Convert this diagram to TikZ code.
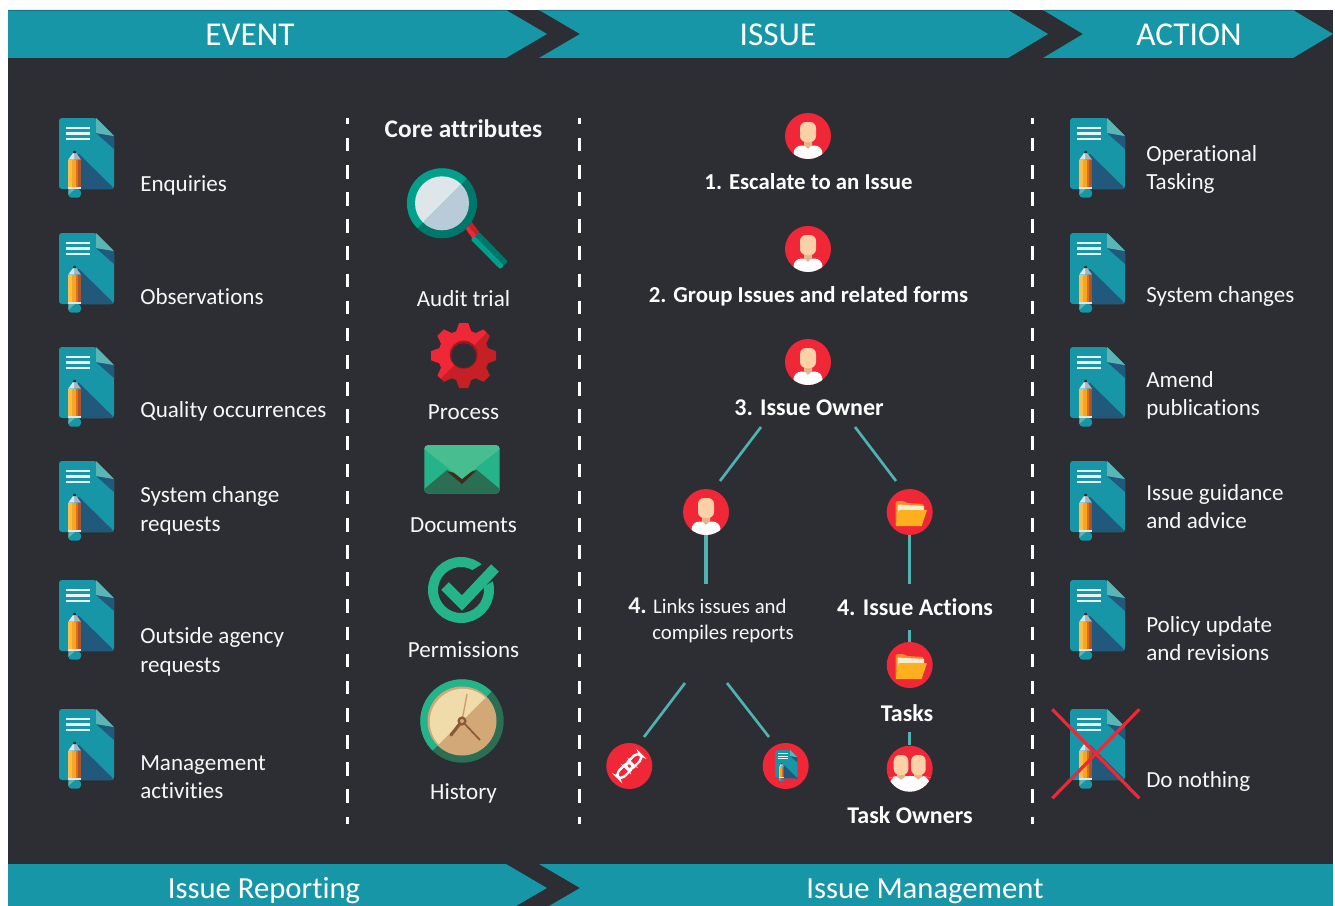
\documentclass[tikz,border=0pt]{standalone}
\usepackage{fontspec}
\setmainfont{Carlito}[Ligatures={CommonOff}]
\definecolor{bg}{HTML}{2C2E33}
\definecolor{teal}{HTML}{1696A6}
\definecolor{tealedge}{HTML}{127482}
\definecolor{foldlt}{HTML}{5AB5B5}
\definecolor{docdark}{HTML}{22587C}
\definecolor{conn}{HTML}{4FB3B3}
\definecolor{redm}{HTML}{EF2736}
\definecolor{redd}{HTML}{C52026}
\definecolor{skin}{HTML}{FDD0A8}
\definecolor{skind}{HTML}{E5B48A}
\definecolor{magl}{HTML}{00A08A}
\definecolor{magd}{HTML}{00776B}
\definecolor{lensl}{HTML}{DEE6E9}
\definecolor{lensd}{HTML}{B9CBD9}
\definecolor{grn}{HTML}{25B48A}
\definecolor{grnd}{HTML}{2A6E54}
\definecolor{grnl}{HTML}{48BE90}
\definecolor{brownd}{HTML}{43291C}
\definecolor{facel}{HTML}{F0DCAA}
\definecolor{faced}{HTML}{D2A877}
\definecolor{handd}{HTML}{8A5A38}
\definecolor{foldy}{HTML}{FDB01E}
\definecolor{foldo}{HTML}{F58A27}
\definecolor{foldc}{HTML}{F5EBCF}
\definecolor{penb}{HTML}{FCC04A}
\definecolor{penc}{HTML}{F9A51F}
\definecolor{pend}{HTML}{DA6E23}
\definecolor{pene}{HTML}{A8552A}
\definecolor{coneg}{HTML}{A9B4BC}
\newcommand\ulhalf{(-60,60) -- (60,-60) -- (-60,-60) -- cycle}
% document-and-pencil icon, origin at the document's top-left corner
\newcommand\docicon[3]{%
\begin{scope}[shift={(#1,#2)},scale=#3]
 \fill[teal,rounded corners=2.2pt] (0,0) -- (37,0) -- (55,18) -- (55,71) -- (0,71) -- cycle;
 \fill[docdark] (37,15) -- (55,18) -- (55,31) -- cycle;
 \fill[foldlt] (37,0) -- (55,18) -- (37,15) -- cycle;
 \fill[docdark,rounded corners=1.5pt] (19,35) -- (54.6,70) -- (54,71) -- (15,71) -- cycle;
 \fill[white!90!teal] (7,8.6) rectangle (31,10.8);
 \fill[white!90!teal] (7,14.3) rectangle (31,16.5);
 \fill[white!90!teal] (7,20) rectangle (31,22.2);
 \fill[penb] (9.3,41.5) rectangle (12.7,68.7);
 \fill[penc] (12.7,41.5) rectangle (16.7,68.7);
 \fill[pend] (16.7,41.5) rectangle (19.3,68.7);
 \fill[pene] (19.3,41.5) rectangle (22,68.7);
 \fill[lensl] (9.3,41.6) -- (15.6,33) -- (15.6,41.6) -- cycle;
 \fill[coneg] (15.6,33) -- (22,41.6) -- (15.6,41.6) -- cycle;
 \fill[bg] (14,35.2) -- (14.6,32.8) -- (16.6,32.8) -- (17.2,35.2) -- cycle;
 \fill[lensl] (9.3,68.7) rectangle (22,71);
 \fill[teal,rounded corners=2.5pt] (9.3,71) -- (22,71) -- (22,79.7) -- (9.3,79.7) -- cycle;
 \fill[foldlt] (9.3,71) -- (16,71) -- (9.3,77) -- cycle;
\end{scope}}
\newcommand\personshape[1]{%
 \fill[white,rounded corners=6pt] (#1-14.5,30) -- (#1-14.5,9.5) -- (#1+14.5,9.5) -- (#1+14.5,30) -- cycle;
 \fill[skind] (#1-4,4) -- (#1+4,4) -- (#1+4,9) -- (#1,12.8) -- (#1-4,9) -- cycle;
 \fill[skin,rounded corners=4.5pt] (#1-8,-14) rectangle (#1+8,6);
}
\newcommand\personicon[1]{%
\begin{scope}[shift={(#1.center)}]
 \clip (0,0) circle (23);
 \personshape{0}
\end{scope}}
\newcommand\twopeople[1]{%
\begin{scope}[shift={(#1.center)}]
 \clip (0,0) circle (23);
 \fill[white,rounded corners=6pt] (-20.5,30) -- (-20.5,9) -- (-14,7.5) -- (14,7.5) -- (20.5,9) -- (20.5,30) -- cycle;
 \fill[skind] (-12.5,4) -- (-4.5,4) -- (-4.5,8) -- (-8.7,11) -- (-12.5,8) -- cycle;
 \fill[skind] (12.5,4) -- (4.5,4) -- (4.5,8) -- (8.7,11) -- (12.5,8) -- cycle;
 \fill[skin,rounded corners=4.5pt] (-16,-13.7) rectangle (-1.4,6.3);
 \fill[skin,rounded corners=4.5pt] (1.4,-13.7) rectangle (16,6.3);
\end{scope}}
\newcommand\foldericon[1]{%
\begin{scope}[shift={(#1.center)}]
 \fill[foldo,rounded corners=1pt] (-14,14) -- (-14,-11) -- (-6,-11) -- (-3,-9) -- (14,-8) -- (14,0) -- (-10,14) -- cycle;
 \fill[foldc] (-12,14) -- (-12,-7.5) -- (14.5,-6) -- (14.5,0) -- cycle;
 \fill[foldy] (-11,-2) -- (17.3,-2) -- (12,14) -- (-14,14) -- cycle;
\end{scope}}
\tikzset{
 hdrtext/.style={text=white,inner sep=0pt,anchor=base,font=\fontsize{25pt}{28pt}\selectfont},
 bandtext/.style={text=white,inner sep=0pt,anchor=base,font=\fontsize{23pt}{26pt}\selectfont},
 lbl/.style={text=white!96!bg,inner sep=0pt,anchor=base west,font=\fontsize{17.3pt}{21pt}\selectfont},
 ctr/.style={text=white!96!bg,inner sep=0pt,anchor=base,font=\fontsize{17.3pt}{21pt}\selectfont},
 bld/.style={text=white,inner sep=0pt,anchor=base,font=\fontsize{18pt}{21pt}\selectfont\bfseries},
 bldsmall/.style={text=white,inner sep=0pt,anchor=base,font=\fontsize{17.1pt}{21pt}\selectfont\bfseries},
 iconc/.style={circle,fill=redm,draw=none,inner sep=0pt,minimum size=34.5pt},
 connline/.style={draw=conn,line width=2pt},
 connthick/.style={draw=conn,line width=2.3pt},
 divider/.style={draw=white,line width=2.25pt,dash pattern=on 10.18pt off 10.18pt,dash phase=5.45pt},
 crossline/.style={draw=redm,line width=2.4pt},
 arrowbar/.style={fill=teal}
}
\begin{document}
\begin{tikzpicture}[x=0.75pt,y=-0.75pt]
\useasboundingbox (0,0) rectangle (1335,906);
\fill[white] (0,0) rectangle (1335,906);
\fill[bg] (8,10) rectangle (1333,906);
% headers
\fill[arrowbar] (8,10) -- (506,10) -- (547,34) -- (506,58) -- (8,58) -- cycle;
\fill[arrowbar] (539,10) -- (1008,10) -- (1048,34) -- (1008,58) -- (539,58) -- (580,34) -- cycle;
\fill[arrowbar] (1043,10) -- (1293,10) -- (1333,34) -- (1293,58) -- (1043,58) -- (1083,34) -- cycle;
\draw[tealedge,line width=.6pt] (8,10.4) -- (506,10.4) (539,10.4) -- (1008,10.4) (1043,10.4) -- (1293,10.4);
\node[hdrtext] (hevent) at (250,46) {EVENT};
\node[hdrtext] (hissue) at (778,46) {ISSUE};
\node[hdrtext] (haction) at (1189,46) {ACTION};
% bottom bands
\fill[arrowbar] (8,864) -- (506,864) -- (547,888) -- (516,906) -- (8,906) -- cycle;
\fill[arrowbar] (539,864) -- (1333,864) -- (1333,906) -- (549,906) -- (580,888) -- cycle;
\node[bandtext] (breport) at (264,898) {Issue Reporting};
\node[bandtext] (bmanage) at (925,898) {Issue Management};
% dividers
\coordinate (d1a) at (347.5,118); \coordinate (d1b) at (347.5,824);
\coordinate (d2a) at (579,118); \coordinate (d2b) at (579,824);
\coordinate (d3a) at (1032,118); \coordinate (d3b) at (1032,824);
\draw[divider] (d1a) -- (d1b);
\draw[divider] (d2a) -- (d2b);
\draw[divider] (d3a) -- (d3b);
% left column
\docicon{59}{118}{1}
\docicon{59}{233}{1}
\docicon{59}{347}{1}
\docicon{59}{461}{1}
\docicon{59}{580}{1}
\docicon{59}{709}{1}
\node[lbl] (l1) at (140,191) {Enquiries};
\node[lbl] (l2) at (140,304) {Observations};
\node[lbl] (l3) at (140,417) {Quality occurrences};
\node[lbl] (l4a) at (140,502) {System change};
\node[lbl] (l4b) at (140,531) {requests};
\node[lbl] (l5a) at (140,643) {Outside agency};
\node[lbl] (l5b) at (140,672) {requests};
\node[lbl] (l6a) at (140,770) {Management};
\node[lbl] (l6b) at (140,798) {activities};
% right column
\docicon{1070}{118}{1}
\docicon{1070}{233}{1}
\docicon{1070}{347}{1}
\docicon{1070}{461}{1}
\docicon{1070}{580}{1}
\docicon{1070}{709}{1}
\node[lbl] (r1a) at (1146,161) {Operational};
\node[lbl] (r1b) at (1146,189) {Tasking};
\node[lbl] (r2) at (1146,302) {System changes};
\node[lbl] (r3a) at (1146,387) {Amend};
\node[lbl] (r3b) at (1146,415) {publications};
\node[lbl] (r4a) at (1146,500) {Issue guidance};
\node[lbl] (r4b) at (1146,528) {and advice};
\node[lbl] (r5a) at (1146,632) {Policy update};
\node[lbl] (r5b) at (1146,660) {and revisions};
\node[lbl] (r6) at (1146,787) {Do nothing};
\coordinate (xa) at (1052.3,709.3); \coordinate (xb) at (1139.3,798.3);
\coordinate (xc) at (1139.3,709.3); \coordinate (xd) at (1052.3,798.3);
\draw[crossline] (xa) -- (xb);
\draw[crossline] (xc) -- (xd);
% core attributes column
\node[ctr,font=\fontsize{19pt}{22pt}\selectfont\bfseries] (core) at (463.5,137.5) {Core attributes};
\node[ctr] (c1) at (463.5,306) {Audit trial};
\node[ctr] (c2) at (463.5,419) {Process};
\node[ctr] (c3) at (463.5,532) {Documents};
\node[ctr] (c4) at (463.5,657) {Permissions};
\node[ctr] (c5) at (463.5,799) {History};
% magnifier
\fill[redm] (462,224) -- (469,219) -- (479,232) -- (473,239) -- cycle;
\fill[redd] (469,219) -- (479,232) -- (476,235) -- (465,222) -- cycle;
\fill[magl,rounded corners=1pt] (470.7,239.5) -- (475,236) -- (504,265.5) -- (500.2,269.3) -- cycle;
\fill[magd,rounded corners=1pt] (475,236) -- (479,231.7) -- (508,261.7) -- (504,265.5) -- cycle;
\begin{scope}[shift={(442,203.3)}]
 \fill[magd] (0,0) circle (35);
 \fill[lensd] (0,0) circle (27);
 \begin{scope}
  \clip \ulhalf;
  \fill[magl] (0,0) circle (35);
  \fill[lensl] (0,0) circle (27);
 \end{scope}
\end{scope}
% gear
\newcommand\gearfill[1]{%
 \fill[#1] (0,0) circle (25.5);
 \foreach \a in {0,45,...,315} {\fill[#1,rotate=\a] (23,-8) -- (32.5,-4.5) -- (32.5,4.5) -- (23,8) -- cycle;}
}
\begin{scope}[shift={(463.7,355.7)}]
 \gearfill{redd}
 \begin{scope}
  \clip \ulhalf;
  \gearfill{redm}
 \end{scope}
 \fill[redd!80!black] (0,-1) circle (14);
 \fill[bg] (0,0) circle (12.5);
\end{scope}
% envelope
\fill[grn,rounded corners=3pt] (424.3,445) rectangle (499.7,493.7);
\begin{scope}
 \clip[rounded corners=3pt] (424.3,445) rectangle (499.7,493.7);
 \fill[grnd] (424.3,493.7) -- (424.3,489) -- (447,470) -- (462,478) -- (477,470) -- (499.7,489) -- (499.7,493.7) -- cycle;
 \fill[brownd] (447,471.5) -- (462,484) -- (477,470) -- (462,474) -- cycle;
 \fill[grnl] (424.3,445) -- (499.7,445) -- (499.7,449) -- (462,479) -- (424.3,449) -- cycle;
\end{scope}
% permissions
\begin{scope}[shift={(461,590)}]
 \draw[grn,line width=7.5pt] (0,0) circle (28);
 \draw[bg,line width=15pt] (0,-1) -- (34,-22);
 \draw[bg,line width=4pt] (2,17) -- (34,-22);
\end{scope}
\coordinate (cka) at (445,586); \coordinate (ckb) at (462,603); \coordinate (ckc) at (495,568);
\draw[grn,line width=8pt] (cka) -- (ckb) -- (ckc);
% clock
\begin{scope}[shift={(462,721)}]
 \fill[grnd] (0,0) circle (41.7);
 \begin{scope}
  \clip \ulhalf;
  \fill[grn] (0,0) circle (41.7);
 \end{scope}
 \fill[faced] (0,0) circle (34.5);
 \begin{scope}
  \clip \ulhalf;
  \fill[facel] (0.8,0.8) circle (33);
 \end{scope}
 \draw[faced!85!handd,line width=1pt] (0,0) -- (5,-27);
 \draw[handd,line width=1.3pt] (0,0) -- (18,19);
 \draw[handd,line width=2.4pt,line cap=round] (0,0) -- (-11,14);
 \fill[handd] (0,0) circle (4.6);
 \fill[faced] (0,0) circle (2);
\end{scope}
% centre tree
\node[iconc] (i1) at (808,136) {};
\node[iconc] (i2) at (808,249) {};
\node[iconc] (i3) at (808,362) {};
\personicon{i1}
\personicon{i2}
\personicon{i3}
\node[bldsmall] (t1) at (808.5,189) {1. Escalate to an Issue};
\node[bldsmall] (t2) at (808.5,302) {2. Group Issues and related forms};
\node[bld] (t3) at (809,415) {3. Issue Owner};
\node[iconc] (i4) at (706,512) {};
\personicon{i4}
\node[iconc] (i5) at (909.7,512) {};
\foldericon{i5}
\node[text=white!96!bg,inner sep=0pt,anchor=base west,font=\fontsize{15.6pt}{19pt}\selectfont] (t4a) at (628,613) {{\fontsize{18pt}{19pt}\selectfont\bfseries 4.} Links issues and};
\node[text=white!96!bg,inner sep=0pt,anchor=base west,font=\fontsize{15.6pt}{19pt}\selectfont] (t4b) at (652,639) {compiles reports};
\node[bld] (t5) at (915,615) {4. Issue Actions};
\node[iconc] (i6) at (909.7,665) {};
\foldericon{i6}
\node[bld] (t6) at (907,721) {Tasks};
\node[iconc] (i7) at (909.7,768.7) {};
\twopeople{i7}
\node[bld] (t7) at (910,823) {Task Owners};
\node[iconc] (i8) at (629.3,766) {};
\node[iconc] (i9) at (785.7,766) {};
\docicon{775.3}{750}{0.4}
\begin{scope}[shift={(i8.center)},rotate=45]
 \draw[white,line width=1.8pt,rounded corners=4pt] (-16,-4) rectangle (3.5,4);
 \draw[white,line width=1.8pt,rounded corners=4pt] (-3.5,-4) rectangle (16,4);
\end{scope}
% connectors
\coordinate (a1) at (761,427); \coordinate (a2) at (720,481);
\coordinate (b1) at (855,427); \coordinate (b2) at (896,481);
\coordinate (e4) at (706,584); \coordinate (e5) at (909.7,584);
\coordinate (e6) at (909.7,630);
\coordinate (e7) at (909.7,732);
\coordinate (f1) at (685,683); \coordinate (f2) at (644,737);
\coordinate (g1) at (727,683); \coordinate (g2) at (769,737);
\draw[connline] (a1) -- (a2);
\draw[connline] (b1) -- (b2);
\draw[connthick] (i4.south) -- (e4);
\draw[connthick] (i5.south) -- (e5);
\draw[connthick] (e6) -- (i6.north);
\draw[connthick] (e7) -- (i7.north);
\draw[connline] (f1) -- (f2);
\draw[connline] (g1) -- (g2);
\end{tikzpicture}
\end{document}
